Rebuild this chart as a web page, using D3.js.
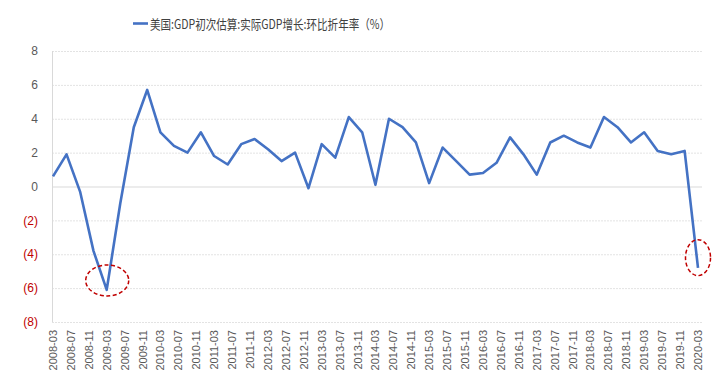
<!DOCTYPE html>
<html>
<head>
<meta charset="utf-8">
<script src="https://cdn.jsdelivr.net/npm/d3@7"></script>
<style>
  body { margin: 0; background: #fff; }
  svg { display: block; }
</style>
</head>
<body>
<svg id="chart" width="721" height="386"></svg>
<script>
// US GDP advance estimate, real growth, q/q annualised (%), quarterly 2008-03 .. 2020-03
var seriesName = "美国:GDP初次估算:实际GDP增长:环比折年率（%）";
var firstQuarter = "2008-03";
var gdpValues = [
  0.6, 1.9, -0.3, -3.8,   // 2008
  -6.1, -1.0, 3.5, 5.7,   // 2009
  3.2, 2.4, 2.0, 3.2,     // 2010
  1.8, 1.3, 2.5, 2.8,     // 2011
  2.2, 1.5, 2.0, -0.1,    // 2012
  2.5, 1.7, 4.1, 3.2,     // 2013
  0.1, 4.0, 3.5, 2.6,     // 2014
  0.2, 2.3, 1.5, 0.7,     // 2015
  0.8, 1.4, 2.9, 1.9,     // 2016
  0.7, 2.6, 3.0, 2.6,     // 2017
  2.3, 4.1, 3.5, 2.6,     // 2018
  3.2, 2.1, 1.9, 2.1,     // 2019
  -4.8                    // 2020
];
var yTicks = [-8, -6, -4, -2, 0, 2, 4, 6, 8];
var tickStart = "2008-03", tickEnd = "2020-03", tickStepMonths = 4;
// highlighted troughs: [quarter, centre value]
var marks = [["2009-03", -5.55], ["2020-03", -4.2]];

var svg = d3.select("#chart");
var parse = d3.timeParse("%Y-%m");
var fmt = d3.timeFormat("%Y-%m");

var data = gdpValues.map(function(v, i) {
  return { date: d3.timeMonth.offset(parse(firstQuarter), 3 * i), value: v };
});

var x = d3.scaleTime()
  .domain([parse(tickStart), parse(tickEnd)])
  .range([53, 698]);
var y = d3.scaleLinear().domain([-8, 8]).range([322, 51]);

var xTicks = d3.timeMonth.range(parse(tickStart), d3.timeDay.offset(parse(tickEnd), 1), tickStepMonths);

// gridlines
svg.append("g")
  .selectAll("line")
  .data(yTicks)
  .enter().append("line")
    .attr("x1", 52).attr("x2", 702)
    .attr("y1", function(d) { return y(d) + 0.5; })
    .attr("y2", function(d) { return y(d) + 0.5; })
    .attr("stroke", function(d) { return d === 0 ? "#d9d9d9" : "#e3e3e3"; })
    .attr("stroke-width", 1)
    .attr("stroke-dasharray", function(d) { return d === 0 ? null : "2,1"; });

// left axis line
svg.append("line")
  .attr("x1", 52.5).attr("x2", 52.5)
  .attr("y1", y(8)).attr("y2", y(-8))
  .attr("stroke", "#d9d9d9");

// y labels
svg.append("g")
  .selectAll("text")
  .data(yTicks)
  .enter().append("text")
    .attr("x", 38)
    .attr("y", function(d) { return y(d); })
    .attr("dy", "0.35em")
    .attr("text-anchor", "end")
    .attr("font-family", "'Liberation Sans', Arial, sans-serif")
    .attr("font-size", 12)
    .attr("fill", function(d) { return d < 0 ? "#c00000" : "#595959"; })
    .text(function(d) { return d < 0 ? "(" + Math.abs(d) + ")" : d; });

// x labels
svg.append("g")
  .selectAll("text")
  .data(xTicks)
  .enter().append("text")
    .attr("transform", function(d) { return "translate(" + (x(d) + 4) + ",330) rotate(-90)"; })
    .attr("text-anchor", "end")
    .attr("font-family", "'Liberation Sans', Arial, sans-serif")
    .attr("font-size", 11)
    .attr("fill", "#595959")
    .text(function(d) { return fmt(d); });

// line
var line = d3.line()
  .x(function(d) { return x(d.date); })
  .y(function(d) { return y(d.value); });

svg.append("path")
  .datum(data)
  .attr("d", line)
  .attr("fill", "none")
  .attr("stroke", "#4472c4")
  .attr("stroke-width", 2.6)
  .attr("stroke-linejoin", "round");

// red dashed ellipses
svg.append("g")
  .selectAll("ellipse")
  .data(marks)
  .enter().append("ellipse")
    .attr("cx", function(d) { return x(parse(d[0])) + (d[0] === "2020-03" ? 0 : 0.5); })
    .attr("cy", function(d) { return y(d[1]); })
    .attr("rx", function(d, i) { return i === 0 ? 21.5 : 12.5; })
    .attr("ry", function(d, i) { return i === 0 ? 15.5 : 18; })
    .attr("fill", "none")
    .attr("stroke", "#c00000")
    .attr("stroke-width", 1.5)
    .attr("stroke-dasharray", "4,2.5");

// legend
var legend = svg.append("g");
legend.append("line")
  .attr("x1", 133).attr("x2", 148)
  .attr("y1", 23.5).attr("y2", 23.5)
  .attr("stroke", "#4472c4")
  .attr("stroke-width", 2.6);
legend.append("text")
  .attr("x", 150)
  .attr("y", 24)
  .attr("dy", "0.35em")
  .attr("font-family", "'Noto Sans CJK SC', sans-serif")
  .attr("font-size", 13)
  .attr("fill", "#404040")
  .attr("textLength", 240)
  .attr("lengthAdjust", "spacingAndGlyphs")
  .text(seriesName);
</script>
</body>
</html>
